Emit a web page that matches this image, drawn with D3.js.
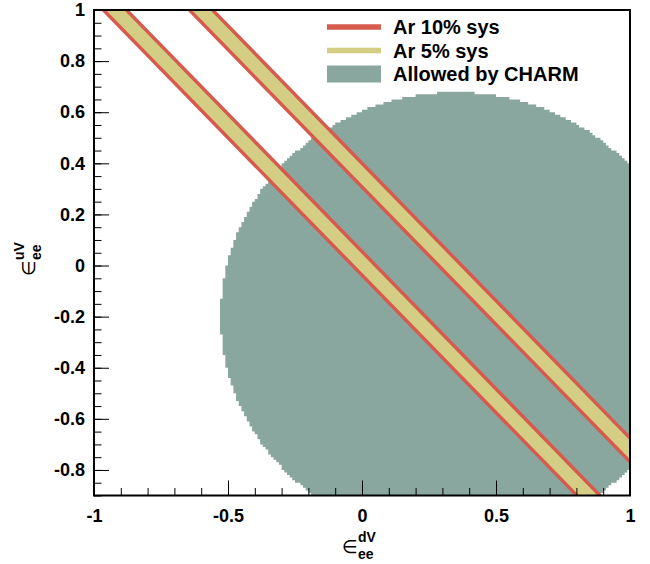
<!DOCTYPE html>
<html>
<head>
<meta charset="utf-8">
<script src="https://cdn.jsdelivr.net/npm/d3@7"></script>
<style>
  html, body { margin: 0; padding: 0; background: #fff; }
  svg { display: block; }
  text { font-family: "Liberation Sans", Arial, Helvetica, sans-serif; font-weight: bold; fill: #000; }
</style>
</head>
<body>
<svg id="chart" width="650" height="564"></svg>
<script>
// ---- data ----
const xDomain = [-1, 1];           // ε_ee^dV
const yDomain = [-0.9, 1];         // ε_ee^uV
const xMajorTicks = [-1, -0.5, 0, 0.5, 1];
const yMajorTicks = [-0.8, -0.6, -0.4, -0.2, 0, 0.2, 0.4, 0.6, 0.8, 1];
const xMinorStep = 0.1;
const yMinorStep = 0.05;

// bands: lines of constant weak charge, ε_uV = slope * (ε_dV - offset)
const bandOffsets = [0.008, 0.329];   // ε_dV where each band crosses ε_uV = 0
const bandSlope = -1.0755;
const halfWidth10 = 0.052;            // Ar 10% sys half width (in ε_dV)
const halfWidth5 = 0.034;             // Ar 5% sys half width (in ε_dV)

// CHARM allowed region (disk in the ε plane, drawn on a histogram grid)
const charmCenter = [0.35, -0.2];
const charmRadius = 0.878;
const binSize = 0.01;

const legendItems = [
  { label: "Ar 10% sys", type: "line", color: "#d65a4e" },
  { label: "Ar 5% sys", type: "line", color: "#d4ce84" },
  { label: "Allowed by CHARM", type: "box", color: "#8aa79f" }
];

// ---- layout ----
const svg = d3.select("#chart");
const L = 94, R = 630, T = 10, B = 495.5;
const x = d3.scaleLinear().domain(xDomain).range([L, R]);
const y = d3.scaleLinear().domain(yDomain).range([B, T]);

svg.append("defs").append("clipPath").attr("id", "plotclip")
  .append("rect").attr("x", L).attr("y", T).attr("width", R - L).attr("height", B - T);

const plot = svg.append("g").attr("clip-path", "url(#plotclip)");

// CHARM disk as binned columns (stair-step outline)
const nCols = Math.round((xDomain[1] - xDomain[0]) / binSize);
const cols = [];
for (let i = 0; i < nCols; i++) {
  const d0 = xDomain[0] + i * binSize, d1 = d0 + binSize, dc = (d0 + d1) / 2;
  const dx = dc - charmCenter[0];
  if (Math.abs(dx) >= charmRadius) continue;
  const h = Math.sqrt(charmRadius * charmRadius - dx * dx);
  const snap = v => yDomain[0] + Math.round((v - yDomain[0]) / binSize) * binSize;
  cols.push({ d0, d1, top: snap(charmCenter[1] + h), bot: snap(charmCenter[1] - h) });
}
let path = "";
cols.forEach((c, i) => {
  path += (i === 0 ? "M" : "L") + x(c.d0) + "," + y(c.top) + "L" + x(c.d1) + "," + y(c.top);
});
for (let i = cols.length - 1; i >= 0; i--) {
  const c = cols[i];
  path += "L" + x(c.d1) + "," + y(c.bot) + "L" + x(c.d0) + "," + y(c.bot);
}
path += "Z";
plot.append("path").attr("d", path).attr("fill", legendItems[2].color);

// bands
function bandPath(d0, w) {
  const uA = -1.3, uB = 1.3;
  const pts = [
    [d0 - w + uA / bandSlope, uA],
    [d0 + w + uA / bandSlope, uA],
    [d0 + w + uB / bandSlope, uB],
    [d0 - w + uB / bandSlope, uB]
  ];
  return "M" + pts.map(p => x(p[0]) + "," + y(p[1])).join("L") + "Z";
}
bandOffsets.forEach(d0 => {
  plot.append("path").attr("d", bandPath(d0, halfWidth10)).attr("fill", legendItems[0].color);
  plot.append("path").attr("d", bandPath(d0, halfWidth5)).attr("fill", legendItems[1].color);
});

// ---- axes ----
const fmt = d => String(+d.toFixed(2));
const xMinor = d3.range(xDomain[0], xDomain[1] + 1e-9, xMinorStep).map(v => +v.toFixed(2));
const yMinor = d3.range(yDomain[0], yDomain[1] + 1e-9, yMinorStep).map(v => +v.toFixed(2));

const gxMinor = svg.append("g").attr("transform", `translate(0,${B})`)
  .call(d3.axisBottom(x).tickValues(xMinor).tickSize(-7.5).tickFormat(""));
const gx = svg.append("g").attr("transform", `translate(0,${B})`)
  .call(d3.axisBottom(x).tickValues(xMajorTicks).tickSize(-15).tickPadding(14).tickFormat(fmt));
const gyMinor = svg.append("g").attr("transform", `translate(${L},0)`)
  .call(d3.axisLeft(y).tickValues(yMinor).tickSize(-7.5).tickFormat(""));
const gy = svg.append("g").attr("transform", `translate(${L},0)`)
  .call(d3.axisLeft(y).tickValues(yMajorTicks).tickSize(-15).tickPadding(9).tickFormat(fmt));

[gxMinor, gx, gyMinor, gy].forEach(g => {
  g.select(".domain").remove();
  g.selectAll("line").attr("stroke", "#000").attr("stroke-width", 1);
  g.selectAll("text").style("font-family", '"Liberation Sans", Arial, sans-serif')
    .style("font-weight", "bold").style("font-size", "18px").attr("fill", "#000");
});

// frame
svg.append("rect").attr("x", L).attr("y", T).attr("width", R - L).attr("height", B - T)
  .attr("fill", "none").attr("stroke", "#000").attr("stroke-width", 2);

// ---- axis titles ----
function epsTitle(g, sup) {
  g.append("text").attr("x", 0).attr("y", 0).style("font-size", "18px").style("font-weight", "normal")
    .style("font-family", '"DejaVu Sans", sans-serif').text("∈");
  g.append("text").attr("x", 16).attr("y", -11).style("font-size", "14px").text(sup);
  g.append("text").attr("x", 16).attr("y", 5.5).style("font-size", "14px").text("ee");
}
epsTitle(svg.append("g").attr("transform", `translate(${x(0) - 20},553)`), "dV");
epsTitle(svg.append("g").attr("transform", `translate(35,276) rotate(-90)`), "uV");

// ---- legend ----
const lg = svg.append("g");
const legY = [27, 50.5, 74];
legendItems.forEach((it, i) => {
  if (it.type === "line") {
    lg.append("line").attr("x1", 327).attr("x2", 381).attr("y1", legY[i]).attr("y2", legY[i])
      .attr("stroke", it.color).attr("stroke-width", 5.5);
  } else {
    lg.append("rect").attr("x", 327).attr("y", legY[i] - 8.5).attr("width", 54).attr("height", 17)
      .attr("fill", it.color);
  }
  lg.append("text").attr("x", 393).attr("y", legY[i] + 7).style("font-size", "20px").text(it.label);
});
</script>
</body>
</html>
